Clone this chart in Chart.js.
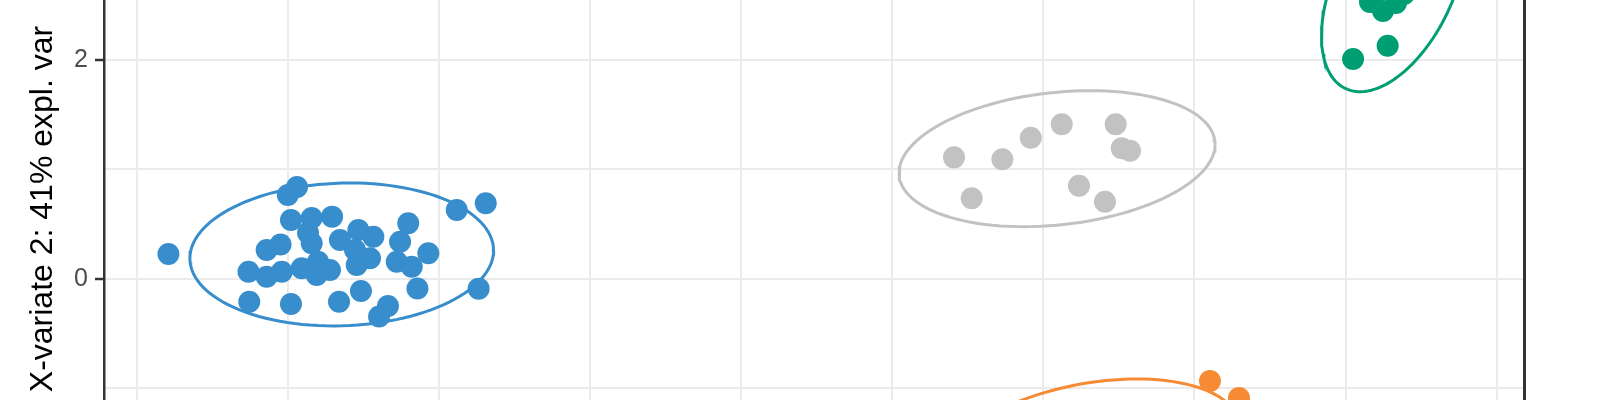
<!DOCTYPE html>
<html lang="en">
<head>
    <meta charset="UTF-8">
    <title>X-variate 2 plot</title>
    <script src="https://cdn.jsdelivr.net/npm/chart.js@4"></script>
    <style>
        html, body { margin: 0; padding: 0; background: #fff; overflow: hidden; }
        .grafico { position: relative; width: 1600px; height: 418px; }
    </style>
</head>
<body>
<div class="grafico"><canvas id="myChart"></canvas></div>

<script>
    // group points
    const blueX = [-3.79, -3.00, -2.939, -2.979, -2.842, -2.707, -3.140, -3.048, -2.866, -2.842,
        -2.655, -2.533, -2.434, -2.555, -2.456, -2.544,
        -2.203, -2.257, -2.279, -2.180, -2.070,
        -3.260, -3.140, -3.040, -2.908, -2.809, -2.721, -2.800,
        -3.255, -2.979, -2.661, -2.516, -2.142, -2.337, -2.396, -1.882, -1.690, -1.737];
    const blueY = [0.227, 0.766, 0.839, 0.537, 0.556, 0.568, 0.264, 0.314, 0.419, 0.325,
        0.355, 0.446, 0.385, 0.264, 0.188, 0.127,
        0.507, 0.339, 0.157, 0.111, 0.234,
        0.066, 0.020, 0.066, 0.097, 0.036, 0.081, 0.157,
        -0.208, -0.229, -0.208, -0.110, -0.088, -0.247, -0.343, 0.629, 0.690, -0.089];

    const greyX = [1.409, 1.729, 1.917, 2.122, 2.479, 2.519, 2.574, 1.526, 2.236, 2.408];
    const greyY = [1.109, 1.091, 1.288, 1.411, 1.411, 1.192, 1.170, 0.735, 0.850, 0.704];

    const greenX = [4.050, 4.279, 4.248, 4.162, 4.334, 4.387, 4.202];
    const greenY = [2.006, 2.128, 2.444, 2.526, 2.517, 2.599, 2.627];

    const orangeX = [3.103, 3.295];
    const orangeY = [-0.932, -1.087];

    // ellipses: centre, half width, tilt (y shift at the x extreme), vertical half chord
    const ellipseCx = [-2.643, 2.091, 4.318, 2.309];
    const ellipseCy = [0.223, 1.097, 2.658, -1.570];
    const ellipseHalfWidth = [1.005, 1.046, 0.477, 0.993];
    const ellipseTilt = [0.036, 0.130, 0.442, 0.205];
    const ellipseHalfHeight = [0.651, 0.607, 0.841, 0.624];

    const groupColors = ['#388ECC', '#C2C2C2', '#009E73', '#F68B33'];

    // axes
    const xGrid = [-4, -3, -2, -1, 0, 1, 2, 3, 4, 5];
    const yGrid = [-1, 0, 1, 2];
    const yLabelled = [0, 2];
    const yTitle = 'X-variate 2: 41% expl. var';

    const fonte = '"Liberation Sans", Arial, sans-serif';

    function pontos(xs, ys) {
        return xs.map((x, i) => ({ x: x, y: ys[i] }));
    }

    function contorno(i) {
        const out = [];
        for (let k = 0; k <= 120; k++) {
            const t = 2 * Math.PI * k / 120;
            out.push({
                x: ellipseCx[i] + ellipseHalfWidth[i] * Math.cos(t),
                y: ellipseCy[i] + ellipseTilt[i] * Math.cos(t) + ellipseHalfHeight[i] * Math.sin(t)
            });
        }
        return out;
    }

    const grupos = [[blueX, blueY], [greyX, greyY], [greenX, greenY], [orangeX, orangeY]];
    const datasets = [];

    grupos.forEach(function (g, i) {
        datasets.push({
            data: pontos(g[0], g[1]),
            showLine: false,
            pointRadius: 11,
            pointBorderWidth: 0,
            pointBackgroundColor: groupColors[i],
            order: 1
        });
        datasets.push({
            data: contorno(i),
            showLine: true,
            borderColor: groupColors[i],
            borderWidth: 3,
            pointRadius: 0,
            tension: 0,
            fill: false,
            order: 2
        });
    });

    function semPadding(scale) {
        scale.paddingTop = 0;
        scale.paddingBottom = 0;
        scale.paddingLeft = 0;
        scale.paddingRight = 0;
    }

    const ctx = document.getElementById('myChart');
    const chart = new Chart(ctx, {
        type: 'scatter',
        data: { datasets: datasets },
        options: {
            responsive: true,
            maintainAspectRatio: false,
            devicePixelRatio: 1,
            animation: false,
            events: [],
            layout: { autoPadding: false, padding: { left: 0, right: 76, top: 0, bottom: 0 } },
            plugins: { legend: { display: false }, tooltip: { enabled: false } },
            scales: {
                x: {
                    type: 'linear',
                    min: -4.2164,
                    max: 5.1813,
                    afterBuildTicks: function (scale) {
                        scale.ticks = xGrid.map(v => ({ value: v }));
                    },
                    afterFit: function (scale) {
                        scale.height = 0;
                        semPadding(scale);
                    },
                    ticks: { display: false },
                    border: { display: false },
                    grid: { color: '#EBEBEB', lineWidth: 2, drawTicks: false }
                },
                y: {
                    type: 'linear',
                    position: 'left',
                    min: -1.2692,
                    max: 2.5447,
                    afterBuildTicks: function (scale) {
                        scale.ticks = yGrid.map(v => ({ value: v }));
                    },
                    afterFit: function (scale) {
                        scale.width = 104;
                        semPadding(scale);
                    },
                    ticks: {
                        color: '#4D4D4D',
                        font: { family: fonte, size: 25 },
                        padding: 7,
                        autoSkip: false,
                        callback: function (v) {
                            return yLabelled.includes(v) ? String(v) : '';
                        }
                    },
                    border: { color: '#333333', width: 2.5 },
                    grid: {
                        color: '#EBEBEB',
                        lineWidth: 2,
                        tickLength: 9,
                        tickWidth: 2.5,
                        tickColor: function (c) {
                            return c.tick && yLabelled.includes(c.tick.value) ? '#333333' : 'rgba(0,0,0,0)';
                        }
                    },
                    title: {
                        display: true,
                        text: yTitle,
                        color: '#000000',
                        font: { family: fonte, size: 32 },
                        padding: { top: 24, bottom: 0 }
                    }
                },
                y2: {
                    type: 'linear',
                    position: 'right',
                    min: 0,
                    max: 1,
                    afterFit: function (scale) {
                        scale.width = 0;
                        semPadding(scale);
                    },
                    ticks: { display: false },
                    grid: { display: false, drawTicks: false },
                    border: { color: '#333333', width: 3 }
                }
            }
        }
    });
</script>
</body>
</html>
